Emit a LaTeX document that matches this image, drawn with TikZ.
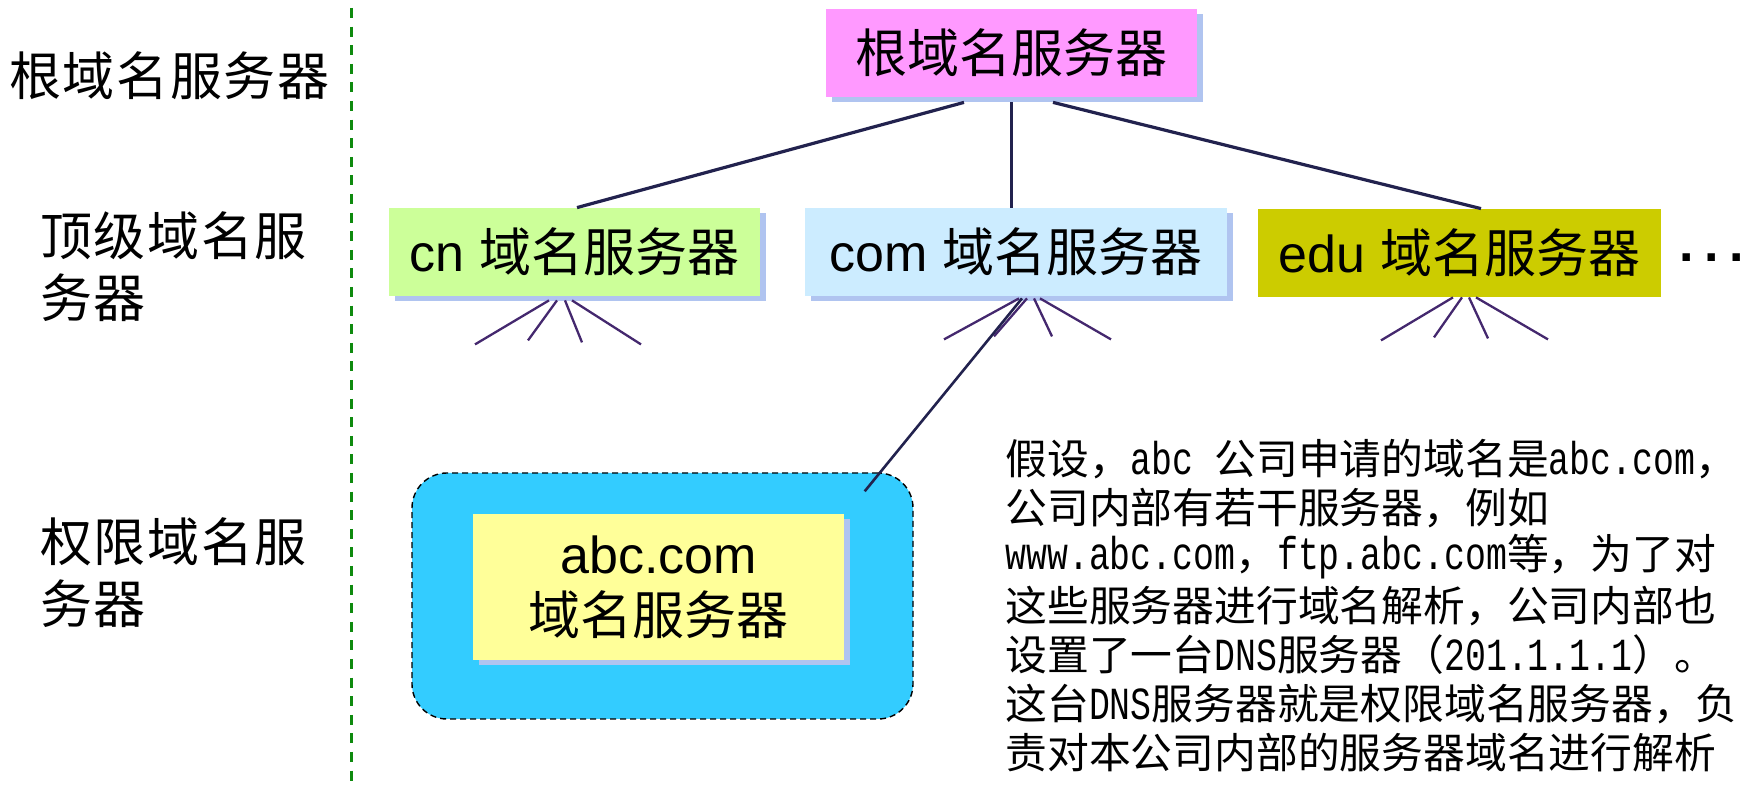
\documentclass[tikz,border=0pt]{standalone}
\usepackage{fontspec}
\setmainfont{Liberation Sans}
\newfontfamily\cjk{Noto Sans CJK SC}
\newfontfamily\cjksp[LetterSpace=3]{Noto Sans CJK SC}
\newfontfamily\serf[Scale=1.1,FakeStretch=0.7576]{Liberation Mono}
\usetikzlibrary{calc,shadows}
\definecolor{rootc}{HTML}{FF99FF}
\definecolor{cnc}{HTML}{CCFF99}
\definecolor{comc}{HTML}{CCECFF}
\definecolor{educ}{HTML}{CCCC00}
\definecolor{contc}{HTML}{33CCFF}
\definecolor{yelc}{HTML}{FFFF99}
\definecolor{shadc}{RGB}{176,196,240}
\definecolor{connc}{HTML}{22224E}
\definecolor{fanc}{HTML}{44286E}
\definecolor{gline}{HTML}{0E8A0E}
\begin{document}
\begin{tikzpicture}[x=0.5pt,y=-0.5pt,
  box/.style={inner sep=0pt, font=\fontsize{26}{31}\selectfont, text=black, align=center},
  shad/.style={drop shadow={shadow xshift=2.75pt, shadow yshift=-2.75pt, fill=shadc, opacity=1}},
  conn/.style={draw=connc, line width=1.6pt},
  fan/.style={draw=fanc, line width=1.15pt},
  lbl/.style={font=\fontsize{26}{31}\selectfont\cjksp, inner sep=0pt, align=left, anchor=west},
  para/.style={font=\fontsize{20.9}{25}\selectfont\cjk, inner sep=0pt, anchor=west}]
\useasboundingbox (0,0) rectangle (1746,785);

% left divider
\coordinate (gtop) at (351,8);
\coordinate (gbot) at (351,785);
\draw[gline, line width=1.5pt, dash pattern=on 5pt off 4.3pt] (gtop) -- (gbot);

% left level labels
\node[lbl] (l1) at (9,76) {根域名服务器};
\node[lbl] (l2) at (40,267) {顶级域名服\\务器};
\node[lbl] (l3) at (40,573) {权限域名服\\务器};

% server boxes
\node[box, shad, fill=rootc, minimum width=185.5pt, minimum height=44pt] (root) at (1011.5,53) {\cjk 根域名服务器};
\node[box, shad, fill=cnc, minimum width=185.5pt, minimum height=44pt] (cn) at (574.5,252) {cn {\cjk 域名服务器}};
\node[box, shad, fill=comc, minimum width=211pt, minimum height=44pt] (com) at (1016,252) {com {\cjk 域名服务器}};
\node[box, fill=educ, minimum width=201.5pt, minimum height=44pt] (edu) at (1459.5,253) {edu {\cjk 域名服务器}};
\node[inner sep=0pt, anchor=base west, font=\fontsize{26}{31}\selectfont\bfseries] (dots) at (1679,262) {.\hspace{5.3pt}.\hspace{5.3pt}.};

% authoritative server
\node[draw=black, dash pattern=on 3pt off 2pt, line width=0.7pt, fill=contc, rounded corners=17.5pt, minimum width=250.5pt, minimum height=123pt, inner sep=0pt] (cont) at (662.5,596) {};
\node[box, shad, fill=yelc, minimum width=185.5pt, minimum height=73pt, font=\fontsize{26}{30.5}\selectfont] (abc) at (658.5,587) {abc.com\\{\cjk 域名服务器}};

% connectors root -> TLD
\draw[conn] ($(root.south)+(-47.5,5)$) -- ($(cn.north)+(2.5,0)$);
\draw[conn] ($(root.south)+(0,5)$) -- (root.south |- com.north);
\draw[conn] ($(root.south)+(41.5,5)$) -- ($(edu.north)+(21.5,0)$);

% com -> abc
\draw[conn, line width=1.3pt] ($(com.south)+(6,2)$) -- ($(cont.north east)+(-49,19)$);

% fans
\draw[fan] ($(cn.south)+(-25.5,4)$) -- ++(-74,44);
\draw[fan] ($(cn.south)+(-17.5,4)$) -- ++(-29,40);
\draw[fan] ($(cn.south)+(-9.5,4)$) -- ++(17,42);
\draw[fan] ($(cn.south)+(-2.5,4)$) -- ++(69,44);

\draw[fan] ($(com.south)+(3,2)$) -- ++(-75,41);
\draw[fan] ($(com.south)+(11,2)$) -- ++(-33,38);
\draw[fan] ($(com.south)+(18,2)$) -- ++(18,38);
\draw[fan] ($(com.south)+(24,2)$) -- ++(71,41);

\draw[fan] ($(edu.south)+(-6.5,0)$) -- ++(-72,43);
\draw[fan] ($(edu.south)+(2.5,0)$) -- ++(-28,40);
\draw[fan] ($(edu.south)+(9.5,0)$) -- ++(19,41);
\draw[fan] ($(edu.south)+(16.5,0)$) -- ++(72,42);

% explanatory text
\node[para] (p1) at (1005,459) {假设，{\serf abc }公司申请的域名是{\serf abc.com}，};
\node[para] (p2) at (1005,508) {公司内部有若干服务器，例如};
\node[para] (p3) at (1005,557) {{\serf www.abc.com}，{\serf ftp.abc.com}等，为了对};
\node[para] (p4) at (1005,606) {这些服务器进行域名解析，公司内部也};
\node[para] (p5) at (1005,655) {设置了一台{\serf DNS}服务器（{\serf 201.1.1.1}）。};
\node[para] (p6) at (1005,704) {这台{\serf DNS}服务器就是权限域名服务器，负};
\node[para] (p7) at (1005,753) {责对本公司内部的服务器域名进行解析};
\end{tikzpicture}
\end{document}
